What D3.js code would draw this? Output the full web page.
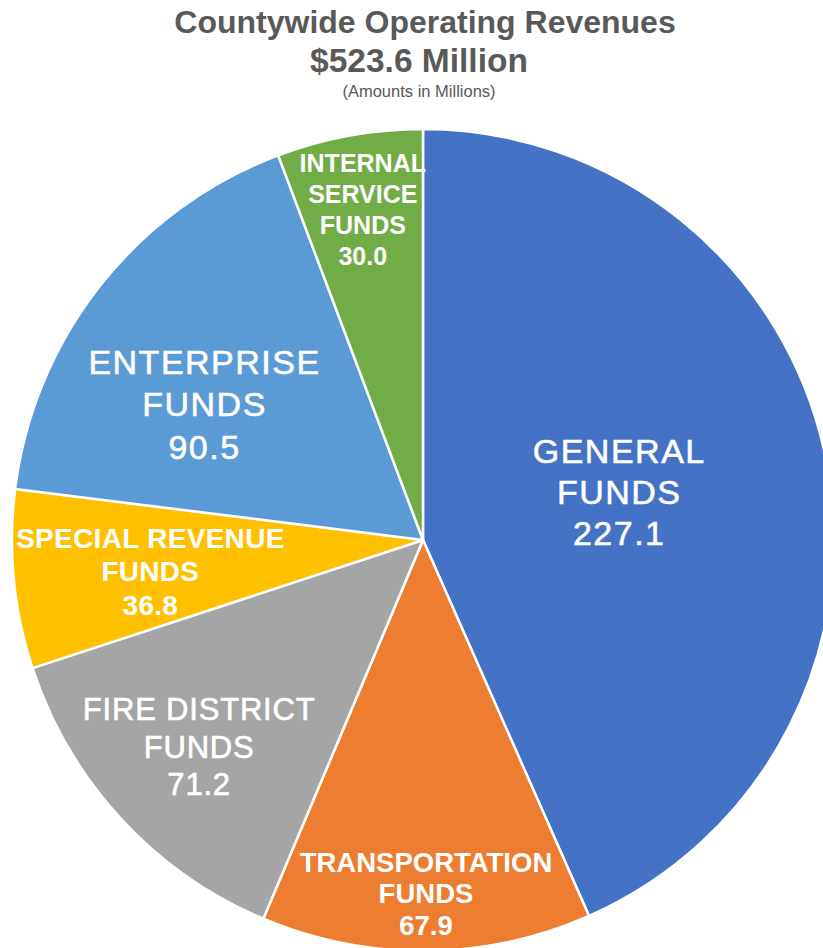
<!DOCTYPE html>
<html>
<head>
<meta charset="utf-8">
<script src="https://cdn.jsdelivr.net/npm/d3@7"></script>
<style>
  html, body { margin: 0; padding: 0; background: #fff; }
  svg { display: block; }
  text { font-family: "Liberation Sans", Arial, sans-serif; }
</style>
</head>
<body>
<div id="chart"></div>
<script>
// ---- data ----
const categories = ["GENERAL FUNDS", "TRANSPORTATION FUNDS", "FIRE DISTRICT FUNDS", "SPECIAL REVENUE FUNDS", "ENTERPRISE FUNDS", "INTERNAL SERVICE FUNDS"];
const labelLines = [
  ["GENERAL", "FUNDS"],
  ["TRANSPORTATION", "FUNDS"],
  ["FIRE DISTRICT", "FUNDS"],
  ["SPECIAL REVENUE", "FUNDS"],
  ["ENTERPRISE", "FUNDS"],
  ["INTERNAL", "SERVICE", "FUNDS"]
];
const values = [227.1, 67.9, 71.2, 36.8, 90.5, 30.0];
const titleLines = ["Countywide Operating Revenues", "$523.6 Million", "(Amounts in Millions)"];

// ---- styles ----
const colors = ["#4472C4", "#ED7D31", "#A5A5A5", "#FFC000", "#5B9BD5", "#70AD47"];
const labelStyle = [
  { frac: 0.49, dAng: -2, fs: 34, fw: "normal", lh: 41, ls: 1.5, sw: 0.6 },
  { frac: 0.86, dAng: 0, fs: 27.5, fw: "bold", lh: 31.5, ls: 0, sw: 0 },
  { frac: 0.742, dAng: 0, fs: 31, fw: "normal", lh: 37.5, ls: 0.8, sw: 0.6 },
  { frac: 0.668, dAng: -1, fs: 28, fw: "bold", lh: 33.5, ls: 0.3, sw: 0 },
  { frac: 0.628, dAng: -6.4, fs: 34, fw: "normal", lh: 42.5, ls: 1.5, sw: 0.6 },
  { frac: 0.818, dAng: 0, fs: 25, fw: "bold", lh: 31, ls: 0, sw: 0 }
];

const W = 823, H = 948;
const cx = 423, cy = 540, R = 411;

const svg = d3.select("#chart").append("svg")
  .attr("width", W).attr("height", H);

// title
const tg = svg.append("g").attr("fill", "#595959").attr("text-anchor", "middle");
tg.append("text").attr("x", 425).attr("y", 33).attr("font-size", 32).attr("font-weight", "bold").text(titleLines[0]);
tg.append("text").attr("x", 419).attr("y", 72).attr("font-size", 33.5).attr("font-weight", "bold").text(titleLines[1]);
tg.append("text").attr("x", 419).attr("y", 97).attr("font-size", 16.5).text(titleLines[2]);

const pie = d3.pie().sort(null).value(d => d);
const arcs = pie(values);
const arc = d3.arc().innerRadius(0).outerRadius(R);

const g = svg.append("g").attr("transform", `translate(${cx},${cy})`);

g.selectAll("path.slice").data(arcs).join("path")
  .attr("class", "slice")
  .attr("d", arc)
  .attr("fill", (d, i) => colors[i])
  .attr("stroke", "#fff")
  .attr("stroke-width", 2.5)
  .attr("stroke-linejoin", "round");

const lg = g.append("g").attr("fill", "#fff").attr("text-anchor", "middle");
arcs.forEach((d, i) => {
  const s = labelStyle[i];
  const ang = (d.startAngle + d.endAngle) / 2 + s.dAng * Math.PI / 180;
  const r = R * s.frac;
  const x = r * Math.sin(ang);
  const y = -r * Math.cos(ang);
  const lines = labelLines[i].concat([d3.format(".1f")(values[i])]);
  const n = lines.length;
  const y0 = y - (n - 1) * s.lh / 2 + 0.36 * s.fs;
  const t = lg.append("text")
    .attr("font-size", s.fs)
    .attr("font-weight", s.fw)
    .attr("letter-spacing", s.ls)
    .attr("stroke", s.sw ? "#fff" : "none")
    .attr("stroke-width", s.sw);
  lines.forEach((ln, k) => {
    t.append("tspan").attr("x", x + s.ls / 2).attr("y", y0 + k * s.lh).text(ln);
  });
});
</script>
</body>
</html>
